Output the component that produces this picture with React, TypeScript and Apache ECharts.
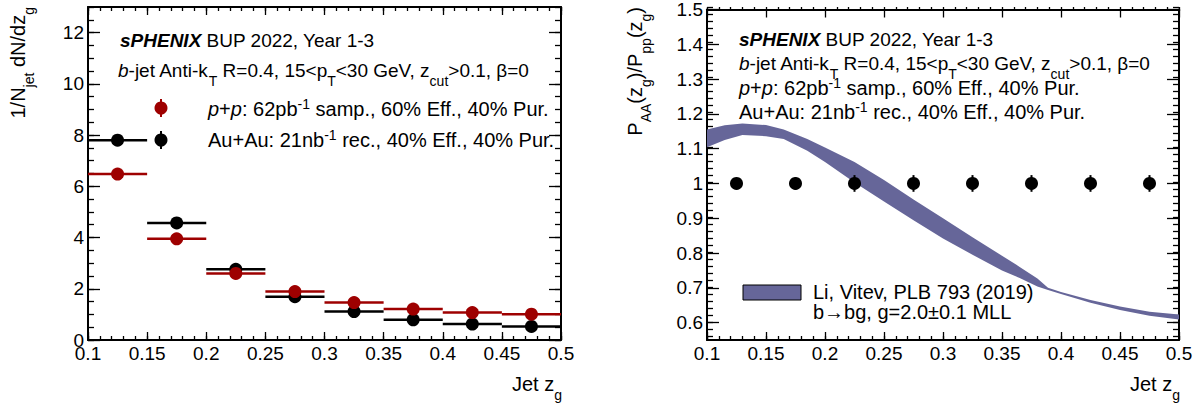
import React, { useEffect, useRef } from "react";
import * as echarts from "echarts";

// ---------- data ----------
const zCenters = [0.125, 0.175, 0.225, 0.275, 0.325, 0.375, 0.425, 0.475];
const binHalfWidths = [0.025, 0.025, 0.025, 0.025, 0.025, 0.025, 0.025, 0.025];
const ppValues = [6.48, 3.95, 2.6, 1.89, 1.46, 1.21, 1.07, 1.01];
const ppErrors = [0.12, 0.08, 0.06, 0.05, 0.05, 0.05, 0.05, 0.05];
const auauValues = [7.8, 4.57, 2.76, 1.69, 1.11, 0.79, 0.62, 0.53];
const auauErrors = [0.15, 0.1, 0.08, 0.06, 0.06, 0.06, 0.06, 0.06];
const ratioValues = [1, 1, 1, 1, 1, 1, 1, 1];
const ratioErrors = [0.012, 0.018, 0.024, 0.024, 0.024, 0.024, 0.024, 0.024];

const bandZ = [0.1, 0.115, 0.13, 0.15, 0.165, 0.185, 0.2, 0.225, 0.25, 0.275, 0.3, 0.325, 0.35, 0.365, 0.38, 0.389, 0.4, 0.425, 0.45, 0.475, 0.5];
const bandUpper = [1.155, 1.167, 1.172, 1.168, 1.155, 1.128, 1.103, 1.062, 1.01, 0.954, 0.9, 0.845, 0.792, 0.76, 0.727, 0.7, 0.688, 0.665, 0.646, 0.631, 0.623];
const bandLower = [1.104, 1.125, 1.139, 1.136, 1.128, 1.094, 1.062, 1.003, 0.948, 0.894, 0.842, 0.795, 0.75, 0.728, 0.704, 0.694, 0.682, 0.657, 0.636, 0.62, 0.609];

const xTickLabels = [0.1, 0.15, 0.2, 0.25, 0.3, 0.35, 0.4, 0.45, 0.5];
const leftYTickLabels = [0, 2, 4, 6, 8, 10, 12];
const rightYTickLabels = [0.6, 0.7, 0.8, 0.9, 1, 1.1, 1.2, 1.3, 1.4, 1.5];

const xRange = [0.1, 0.5];
const leftYRange = [0, 13];
const rightYRange = [0.55, 1.5];

// ---------- style ----------
const FONT = '"Liberation Sans", Arial, Helvetica, sans-serif';
const RED = "#9e0000";
const BLACK = "#000000";
const BAND = "#666699";
const SFS = 14;

function steps(from: number, to: number, step: number): number[] {
  const out: number[] = [];
  const n = Math.round((to - from) / step);
  for (let i = 0; i <= n; i++) out.push(Math.round((from + i * step) * 1e6) / 1e6);
  return out;
}
const xMinorTicks = steps(0.1, 0.5, 0.01);
const leftYMinorTicks = steps(0, 13, 0.5);
const rightYMinorTicks = steps(0.56, 1.5, 0.02);

function rich(fs: number): any {
  return {
    bi: { fontWeight: "bold", fontStyle: "italic", fontSize: fs, fontFamily: FONT, lineHeight: 36, fill: "#000" },
    it: { fontStyle: "italic", fontSize: fs, fontFamily: FONT, lineHeight: 36, fill: "#000" },
    sub: { fontSize: SFS, fontFamily: FONT, verticalAlign: "top", lineHeight: 14, padding: [22, 0, 0, 0], fill: "#000" },
    sup: { fontSize: SFS, fontFamily: FONT, verticalAlign: "top", lineHeight: 14, padding: [6, 0, 0, 0], fill: "#000" },
  };
}

function txt(x: number, y: number, text: string, align = "left", rotation = 0, fs = 20) {
  return {
    type: "text",
    x,
    y,
    rotation,
    z: 100,
    style: {
      text,
      fontSize: fs,
      fontFamily: FONT,
      fill: "#000",
      align,
      verticalAlign: "middle",
      lineHeight: 36,
      rich: rich(fs),
    },
  };
}

function xAxisDef(grid: number, pos: string, major: boolean, labels: boolean, ticks: number[], len: number) {
  return {
    type: "value",
    gridIndex: grid,
    position: pos,
    min: xRange[0],
    max: xRange[1],
    axisLine: { show: major, onZero: false, lineStyle: { color: "#000", width: 2 } },
    axisTick: { show: true, inside: true, length: len, customValues: ticks, lineStyle: { color: "#000", width: 1.3 } },
    axisLabel: {
      show: labels,
      customValues: labels ? xTickLabels : undefined,
      margin: 4,
      color: "#000",
      fontSize: 19,
      fontFamily: FONT,
    },
    splitLine: { show: false },
  };
}

function yAxisDef(grid: number, pos: string, major: boolean, labels: boolean, range: number[], ticks: number[], labelVals: number[], len: number) {
  return {
    type: "value",
    gridIndex: grid,
    position: pos,
    min: range[0],
    max: range[1],
    axisLine: { show: major, onZero: false, lineStyle: { color: "#000", width: 2 } },
    axisTick: { show: true, inside: true, length: len, customValues: ticks, lineStyle: { color: "#000", width: 1.3 } },
    axisLabel: {
      show: labels,
      customValues: labels ? labelVals : undefined,
      margin: 4,
      color: "#000",
      fontSize: 19,
      fontFamily: FONT,
    },
    splitLine: { show: false },
  };
}

function pointSeries(name: string, axisIdx: number, values: number[], errors: number[], halfWidths: number[] | null, color: string) {
  return {
    type: "custom",
    name,
    xAxisIndex: axisIdx,
    yAxisIndex: axisIdx,
    data: zCenters.map((z, i) => [z, values[i], errors[i], halfWidths ? halfWidths[i] : 0]),
    encode: { x: 0, y: 1 },
    renderItem: (_p: any, api: any) => {
      const z = api.value(0);
      const v = api.value(1);
      const e = api.value(2);
      const hw = api.value(3);
      const c = api.coord([z, v]);
      const t = api.coord([z, v + e]);
      const b = api.coord([z, v - e]);
      const children: any[] = [];
      if (hw > 0) {
        const l = api.coord([z - hw, v]);
        const r = api.coord([z + hw, v]);
        children.push({ type: "line", shape: { x1: l[0], y1: l[1], x2: r[0], y2: r[1] }, style: { stroke: color, lineWidth: 2.5 } });
      }
      children.push({ type: "line", shape: { x1: t[0], y1: t[1], x2: b[0], y2: b[1] }, style: { stroke: color, lineWidth: 2 } });
      children.push({ type: "circle", shape: { cx: c[0], cy: c[1], r: 6.5 }, style: { fill: color } });
      return { type: "group", children };
    },
  };
}

function bandSeries(axisIdx: number) {
  return {
    type: "custom",
    name: "Li, Vitev",
    xAxisIndex: axisIdx,
    yAxisIndex: axisIdx,
    data: [[0.3, 0.9]],
    encode: { x: 0, y: 1 },
    renderItem: (_p: any, api: any) => {
      const pts: number[][] = [];
      bandZ.forEach((z, i) => pts.push(api.coord([z, bandUpper[i]])));
      for (let i = bandZ.length - 1; i >= 0; i--) pts.push(api.coord([bandZ[i], bandLower[i]]));
      return { type: "polygon", shape: { points: pts }, style: { fill: BAND } };
    },
  };
}

function legendMarker(x: number, y: number, color: string) {
  return {
    type: "group",
    z: 100,
    children: [
      { type: "line", shape: { x1: x, y1: y - 9, x2: x, y2: y + 9 }, style: { stroke: color, lineWidth: 2 } },
      { type: "circle", shape: { cx: x, cy: y, r: 6.5 }, style: { fill: color } },
    ],
  };
}

const TITLE = "{bi|sPHENIX} BUP 2022, Year 1-3";
const SELECTION = "{it|b}-jet Anti-k{sub|T} R=0.4, 15<p{sub|T}<30 GeV, z{sub|cut}>0.1, β=0";
const PP = "{it|p}+{it|p}: 62pb{sup|-1} samp., 60% Eff., 40% Pur.";
const AUAU = "Au+Au: 21nb{sup|-1} rec., 40% Eff., 40% Pur.";

export default function App() {
  const ref = useRef<HTMLDivElement>(null);
  useEffect(() => {
    if (!ref.current) return;
    const chart = echarts.init(ref.current, undefined, { renderer: "svg" });
    const gl = { left: 88, top: 7, width: 473, height: 333 };
    const gr = { left: 707, top: 7, width: 472, height: 333 };
    const option: any = {
      animation: false,
      backgroundColor: "#fff",
      grid: [
        { ...gl, show: false },
        { ...gl, show: false },
        { ...gr, show: false },
        { ...gr, show: false },
      ],
      xAxis: [
        xAxisDef(0, "bottom", true, true, xTickLabels, 8),
        xAxisDef(0, "top", true, false, xTickLabels, 8),
        xAxisDef(1, "bottom", false, false, xMinorTicks, 4),
        xAxisDef(1, "top", false, false, xMinorTicks, 4),
        xAxisDef(2, "bottom", true, true, xTickLabels, 8),
        xAxisDef(2, "top", true, false, xTickLabels, 8),
        xAxisDef(3, "bottom", false, false, xMinorTicks, 4),
        xAxisDef(3, "top", false, false, xMinorTicks, 4),
      ],
      yAxis: [
        yAxisDef(0, "left", true, true, leftYRange, leftYTickLabels, leftYTickLabels, 12),
        yAxisDef(0, "right", true, false, leftYRange, leftYTickLabels, leftYTickLabels, 12),
        yAxisDef(1, "left", false, false, leftYRange, leftYMinorTicks, [], 6),
        yAxisDef(1, "right", false, false, leftYRange, leftYMinorTicks, [], 6),
        yAxisDef(2, "left", true, true, rightYRange, rightYTickLabels, rightYTickLabels, 12),
        yAxisDef(2, "right", true, false, rightYRange, rightYTickLabels, rightYTickLabels, 12),
        yAxisDef(3, "left", false, false, rightYRange, rightYMinorTicks, [], 6),
        yAxisDef(3, "right", false, false, rightYRange, rightYMinorTicks, [], 6),
      ],
      series: [
        pointSeries("Au+Au", 0, auauValues, auauErrors, binHalfWidths, BLACK),
        pointSeries("p+p", 0, ppValues, ppErrors, binHalfWidths, RED),
        bandSeries(4),
        pointSeries("ratio", 4, ratioValues, ratioErrors, null, BLACK),
      ],
      graphic: [
        txt(120, 40, TITLE, "left", 0, 19),
        txt(118, 70, SELECTION, "left", 0, 19),
        txt(208, 109, PP),
        txt(208, 140, AUAU),
        legendMarker(161, 108, RED),
        legendMarker(161, 140, BLACK),
        txt(739, 39, TITLE, "left", 0, 19),
        txt(739, 63, SELECTION, "left", 0, 19),
        txt(739, 88, PP),
        txt(739, 112, AUAU),
        {
          type: "rect",
          z: 100,
          shape: { x: 743, y: 285, width: 58, height: 15 },
          style: { fill: BAND, stroke: "#000", lineWidth: 1 },
        },
        txt(813, 292, "Li, Vitev, PLB 793 (2019)"),
        txt(813, 312, "b→bg, g=2.0±0.1 MLL"),
        txt(562, 384, "Jet z{sub|g}", "right"),
        txt(1180, 384, "Jet z{sub|g}", "right"),
        txt(18, 7, "1/N{sub|jet} dN/dz{sub|g}", "right", Math.PI / 2),
        txt(635, 7, "P{sub|AA}(z{sub|g})/P{sub|pp}(z{sub|g})", "right", Math.PI / 2),
      ],
    };
    chart.setOption(option);
    return () => chart.dispose();
  }, []);
  return <div ref={ref} style={{ position: "absolute", left: 0, top: 0, width: 1200, height: 403 }} />;
}
